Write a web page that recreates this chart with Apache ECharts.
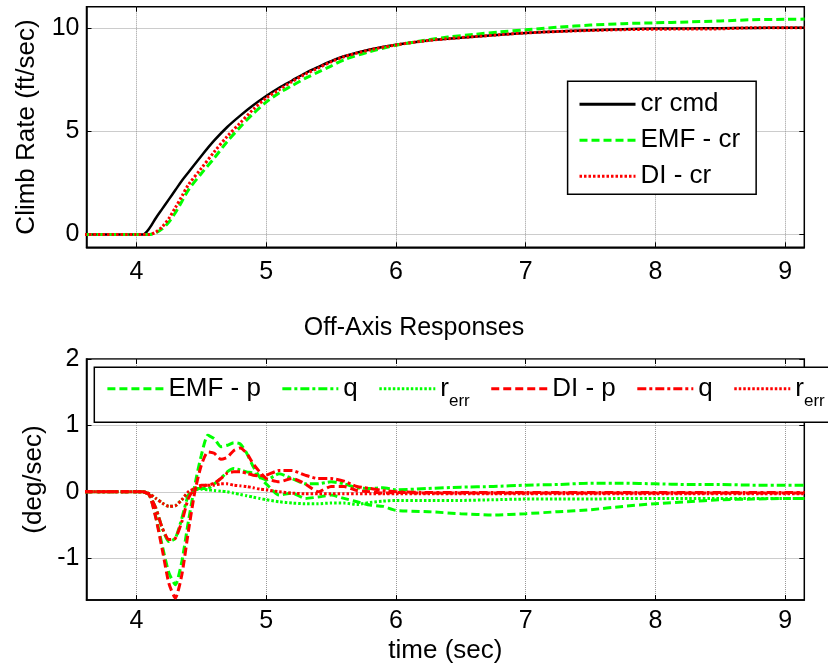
<!DOCTYPE html>
<html><head><meta charset="utf-8">
<script src="https://cdn.jsdelivr.net/npm/echarts@6/dist/echarts.min.js"></script>
<style>html,body{margin:0;padding:0;background:#fff}#c{width:828px;height:672px}</style>
</head><body><div id="c"></div>
<script>
// ---- tick values ----
const xTicks = [4, 5, 6, 7, 8, 9];
const topYTicks = [0, 5, 10];
const botYTicks = [-1, 0, 1, 2];

// ---- top plot: climb rate ----
const tTop = [3.6,4.0,4.05,4.1,4.15,4.2,4.25,4.3,4.35,4.4,4.5,4.6,4.7,4.8,4.9,5.0,5.1,5.2,5.3,5.4,5.5,5.6,5.8,6.0,6.2,6.4,6.6,6.8,7.0,7.25,7.5,7.75,8.0,8.25,8.5,8.75,9.0,9.15];
const crCmd = [0,0,0,0.3,0.8,1.25,1.7,2.15,2.6,3.0,3.8,4.55,5.2,5.75,6.25,6.7,7.1,7.45,7.8,8.1,8.38,8.62,8.95,9.18,9.35,9.47,9.57,9.66,9.75,9.82,9.88,9.93,9.96,9.97,9.98,9.99,10.0,10.0];
const emfCr = [0,0,0,0,0.08,0.28,0.6,1.05,1.6,2.15,2.95,3.7,4.5,5.2,5.85,6.4,6.85,7.2,7.55,7.85,8.15,8.45,8.85,9.15,9.37,9.55,9.68,9.8,9.9,10.03,10.13,10.2,10.24,10.28,10.33,10.39,10.41,10.42];
const diCr  = [0,0,0,0,0.12,0.38,0.78,1.3,1.85,2.4,3.2,4.0,4.75,5.4,6.05,6.6,7.0,7.4,7.75,8.05,8.35,8.6,8.93,9.17,9.35,9.47,9.57,9.66,9.75,9.82,9.87,9.91,9.93,9.94,9.95,10.0,10.0,10.0];

// ---- bottom plot: off-axis responses ----
const tBot = [3.6,4.0,4.05,4.1,4.15,4.2,4.25,4.3,4.35,4.4,4.45,4.5,4.55,4.6,4.65,4.7,4.75,4.8,4.85,4.9,4.95,5.0,5.1,5.2,5.3,5.4,5.5,5.6,5.7,5.8,5.9,6.0,6.25,6.5,6.75,7.0,7.25,7.5,7.75,8.0,8.25,8.5,8.75,9.0,9.15];
const emfP = [0,0,0,-0.05,-0.38,-0.82,-1.22,-1.4,-1.05,-0.45,0.1,0.55,0.85,0.8,0.68,0.7,0.74,0.72,0.58,0.38,0.22,0.12,-0.05,-0.02,-0.1,-0.08,-0.05,-0.1,-0.15,-0.2,-0.22,-0.28,-0.3,-0.33,-0.35,-0.33,-0.3,-0.27,-0.22,-0.18,-0.15,-0.12,-0.11,-0.1,-0.1];
const emfQ = [0,0,0,-0.05,-0.25,-0.55,-0.75,-0.7,-0.4,-0.05,0.05,0.05,0.05,0.12,0.2,0.3,0.35,0.33,0.3,0.28,0.22,0.18,0.27,0.2,0.12,0.12,0.15,0.12,0.06,0.05,0.06,0.03,0.05,0.07,0.08,0.1,0.11,0.13,0.13,0.12,0.11,0.11,0.1,0.1,0.1];
const emfR = [0,0,0,-0.03,-0.1,-0.17,-0.22,-0.21,-0.12,-0.02,0.03,0.04,0.03,0.02,0.01,0.0,-0.02,-0.04,-0.06,-0.08,-0.1,-0.12,-0.15,-0.17,-0.18,-0.18,-0.17,-0.17,-0.19,-0.16,-0.14,-0.13,-0.13,-0.13,-0.12,-0.11,-0.11,-0.11,-0.1,-0.1,-0.1,-0.1,-0.1,-0.1,-0.1];
const diP  = [0,0,0,-0.05,-0.4,-0.88,-1.38,-1.6,-1.25,-0.6,0.0,0.4,0.6,0.58,0.49,0.52,0.62,0.66,0.58,0.42,0.3,0.2,0.15,0.2,0.12,0.0,0.08,0.08,0.02,0.0,-0.02,-0.01,-0.02,-0.02,-0.02,-0.02,-0.02,-0.02,-0.02,-0.02,-0.02,-0.02,-0.02,-0.02,-0.02];
const diQ  = [0,0,0,-0.05,-0.25,-0.55,-0.72,-0.7,-0.45,-0.1,0.05,0.1,0.1,0.13,0.2,0.28,0.3,0.3,0.28,0.25,0.24,0.25,0.32,0.32,0.25,0.2,0.2,0.16,0.08,0.05,0.02,0.0,-0.01,-0.01,-0.01,-0.01,-0.01,-0.01,-0.01,-0.01,-0.01,-0.01,-0.01,-0.01,-0.01];
const diR  = [0,0,0,-0.03,-0.1,-0.17,-0.22,-0.21,-0.12,0.0,0.05,0.08,0.1,0.1,0.12,0.12,0.1,0.09,0.08,0.06,0.04,0.03,0.0,-0.02,-0.03,-0.03,-0.03,-0.03,-0.03,-0.03,-0.03,-0.03,-0.03,-0.03,-0.03,-0.03,-0.03,-0.03,-0.03,-0.03,-0.03,-0.03,-0.03,-0.03,-0.03];

const FONT = '"Liberation Sans", Arial, sans-serif';
const GREEN = '#00ff00', RED = '#ff0000', BLACK = '#000000';
const DASH = [8, 4], DOT = [2.5, 2], DASHDOT = [9, 3, 3, 3];
const pairs = (t, v) => t.map((x, i) => [x, v[i]]);

const X_MIN = 3.615, X_MAX = 9.148;
const labelStyle = {color: '#000', fontSize: 25, fontFamily: FONT};
const gridLine = {show: true, lineStyle: {color: '#999', type: 'dotted', width: 1}};

function mainX(g, margin, extra) {
  return Object.assign({
    type: 'value', gridIndex: g, min: X_MIN, max: X_MAX, position: 'bottom',
    axisLine: {show: true, onZero: false, lineStyle: {color: '#000', width: 1.5}},
    axisTick: {show: true, inside: true, length: 5, customValues: xTicks, lineStyle: {color: '#000'}},
    axisLabel: Object.assign({customValues: xTicks, margin: margin}, labelStyle),
    splitLine: gridLine
  }, extra || {});
}
function mirrorX(g) {
  return {type: 'value', gridIndex: g, min: X_MIN, max: X_MAX, position: 'top',
    axisLine: {show: false, onZero: false}, axisLabel: {show: false}, splitLine: {show: false},
    axisTick: {show: true, inside: true, length: 5, customValues: xTicks, lineStyle: {color: '#000'}}};
}
function mainY(g, min, max, ticks, name, gap) {
  return {type: 'value', gridIndex: g, min: min, max: max, position: 'left',
    name: name, nameLocation: 'middle', nameGap: gap, nameRotate: 90,
    nameTextStyle: {color: '#000', fontSize: 26, fontFamily: FONT},
    axisLine: {show: true, onZero: false, lineStyle: {color: '#000', width: 1.5}},
    axisTick: {show: true, inside: true, length: 5, customValues: ticks, lineStyle: {color: '#000'}},
    axisLabel: Object.assign({customValues: ticks, margin: 7}, labelStyle),
    splitLine: gridLine};
}
function mirrorY(g, min, max, ticks) {
  return {type: 'value', gridIndex: g, min: min, max: max, position: 'right',
    axisLine: {show: false, onZero: false}, axisLabel: {show: false}, splitLine: {show: false},
    axisTick: {show: true, inside: true, length: 5, customValues: ticks, lineStyle: {color: '#000'}}};
}
function line(name, xi, yi, t, v, color, type, width, smooth) {
  return {name: name, type: 'line', xAxisIndex: xi, yAxisIndex: yi, data: pairs(t, v),
    symbol: 'none', showSymbol: false, color: color, animation: false, smooth: smooth,
    itemStyle: {color: color},
    lineStyle: {color: color, width: width, type: type, cap: 'butt'}};
}

const subNames = {
  'EMF - p': '{m|EMF - p}', 'EMF q': '{m|q}', 'EMF r': '{m|r}{s|err}',
  'DI - p': '{m|DI - p}', 'DI q': '{m|q}', 'DI r': '{m|r}{s|err}'
};

const option = {
  backgroundColor: '#fff',
  animation: false,
  title: {text: 'Off-Axis Responses', left: 'center', top: 316, padding: [0, 0, 0, 62],
    textStyle: {color: '#000', fontSize: 25, fontWeight: 'normal', fontFamily: FONT}},
  grid: [
    {left: 86.5, right: 23.7, top: 6.7, height: 240.6, show: true, borderColor: '#000', borderWidth: 1.5, backgroundColor: '#fff', outerBoundsMode: 'none'},
    {left: 86.5, right: 23.7, top: 359, height: 241, show: true, borderColor: '#000', borderWidth: 1.5, backgroundColor: '#fff', outerBoundsMode: 'none'}
  ],
  xAxis: [
    mainX(0, 12),
    mirrorX(0),
    mainX(1, 9, {name: 'time (sec)', nameLocation: 'middle', nameGap: 38,
      nameTextStyle: {color: '#000', fontSize: 26, fontFamily: FONT}}),
    mirrorX(1)
  ],
  yAxis: [
    mainY(0, -0.62, 11.02, topYTicks, 'Climb Rate (ft/sec)', 47),
    mirrorY(0, -0.62, 11.02, topYTicks),
    mainY(1, -1.63, 2, botYTicks, '(deg/sec)', 40),
    mirrorY(1, -1.63, 2, botYTicks)
  ],
  legend: [
    {orient: 'vertical', left: 567.6, top: 81.2, data: ['cr cmd', 'EMF - cr', 'DI - cr'],
      itemWidth: 56, itemHeight: 14, itemGap: 6, selectedMode: false,
      itemStyle: {opacity: 0, borderWidth: 0},
      lineStyle: {width: 3},
      padding: [8, 16, 3, 10.4], borderColor: '#000', borderWidth: 1.5, backgroundColor: '#fff',
      textStyle: {color: '#000', fontSize: 26, fontFamily: FONT, lineHeight: 30}},
    {orient: 'horizontal', left: 94.3, top: 367.3, width: 1200,
      data: ['EMF - p', 'EMF q', 'EMF r', 'DI - p', 'DI q', 'DI r'],
      itemWidth: 56, itemHeight: 14, itemGap: 20, selectedMode: false,
      itemStyle: {opacity: 0, borderWidth: 0},
      lineStyle: {width: 3},
      padding: [0, 10, 12, 11.6], borderColor: '#000', borderWidth: 1.5, backgroundColor: '#fff',
      formatter: n => subNames[n],
      textStyle: {color: '#000', fontSize: 26, fontFamily: FONT,
        rich: {
          m: {color: '#000', fontSize: 26, fontFamily: FONT, lineHeight: 30},
          s: {color: '#000', fontSize: 17, fontFamily: FONT, lineHeight: 17, padding: [26, 0, 0, 0]}
        }}}
  ],
  series: [
    line('cr cmd', 0, 0, tTop, crCmd, BLACK, 'solid', 2.5, 0.3),
    line('EMF - cr', 0, 0, tTop, emfCr, GREEN, DASH, 3, 0.3),
    line('DI - cr', 0, 0, tTop, diCr, RED, DOT, 3, 0.3),
    line('EMF - p', 2, 2, tBot, emfP, GREEN, DASH, 3, 0.2),
    line('EMF q', 2, 2, tBot, emfQ, GREEN, DASHDOT, 3, 0.2),
    line('EMF r', 2, 2, tBot, emfR, GREEN, DOT, 3, 0.2),
    line('DI - p', 2, 2, tBot, diP, RED, DASH, 3, 0.2),
    line('DI q', 2, 2, tBot, diQ, RED, DASHDOT, 3, 0.2),
    line('DI r', 2, 2, tBot, diR, RED, DOT, 3, 0.2)
  ]
};
const chart = echarts.init(document.getElementById('c'));
chart.setOption(option);
</script></body></html>
